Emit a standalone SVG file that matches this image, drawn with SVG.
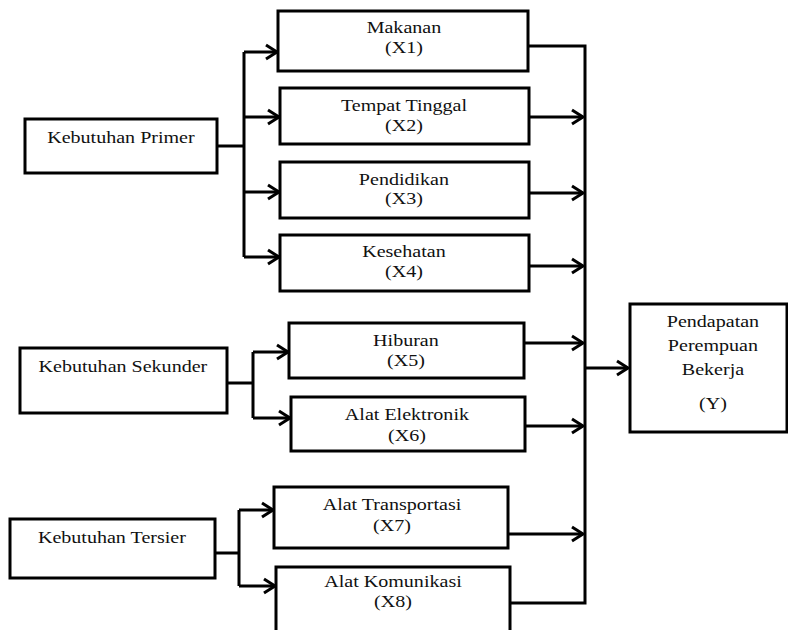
<svg xmlns="http://www.w3.org/2000/svg" width="788" height="630" viewBox="0 0 788 630">
<style>
.box{fill:#fff;stroke:#000;stroke-width:3}
text{font-family:'Liberation Serif',serif;font-size:17px;fill:#111;text-anchor:middle;transform-box:fill-box;transform-origin:center;transform:scaleX(1.18)}
.c{fill:none;stroke:#000;stroke-width:3}
</style>
<defs>
<marker id="ah" markerUnits="userSpaceOnUse" markerWidth="16" markerHeight="18" viewBox="-13 -9 16 18" refX="0" refY="0" orient="auto">
<path d="M-11,-7 L0,0 L-11,7" fill="none" stroke="#000" stroke-width="3"/>
</marker>
</defs>
<rect width="788" height="630" fill="#fff"/>
<g id="connectors">
<path class="c" d="M217,146 H244 M244,52 V257"/>
<path class="c" marker-end="url(#ah)" d="M244,52 H277"/>
<path class="c" marker-end="url(#ah)" d="M244,117 H279"/>
<path class="c" marker-end="url(#ah)" d="M244,192 H279"/>
<path class="c" marker-end="url(#ah)" d="M244,257 H279"/>
<path class="c" d="M227,383 H253 M253,352 V418"/>
<path class="c" marker-end="url(#ah)" d="M253,352 H288"/>
<path class="c" marker-end="url(#ah)" d="M253,418 H290"/>
<path class="c" d="M215,553 H239 M239,510 V586"/>
<path class="c" marker-end="url(#ah)" d="M239,510 H273"/>
<path class="c" marker-end="url(#ah)" d="M239,586 H275"/>
<path class="c" d="M528,46 H585 V603 H510"/>
<path class="c" marker-end="url(#ah)" d="M529,117 H583"/>
<path class="c" marker-end="url(#ah)" d="M529,193 H583"/>
<path class="c" marker-end="url(#ah)" d="M529,266 H583"/>
<path class="c" marker-end="url(#ah)" d="M524,343 H583"/>
<path class="c" marker-end="url(#ah)" d="M525,426 H583"/>
<path class="c" marker-end="url(#ah)" d="M508,534 H583"/>
<path class="c" marker-end="url(#ah)" d="M585,368 H628"/>
</g>
<g id="primer"><rect class="box" x="25" y="119" width="192" height="54"/><text x="121" y="143">Kebutuhan Primer</text></g>
<g id="sekunder"><rect class="box" x="20" y="348" width="207" height="65"/><text x="123" y="372">Kebutuhan Sekunder</text></g>
<g id="tersier"><rect class="box" x="10" y="519" width="205" height="59"/><text x="112" y="543">Kebutuhan Tersier</text></g>
<g id="x1"><rect class="box" x="278" y="11" width="250" height="60"/><text x="404" y="33">Makanan</text><text x="404" y="53">(X1)</text></g>
<g id="x2"><rect class="box" x="280" y="88" width="249" height="56"/><text x="404" y="111">Tempat Tinggal</text><text x="404" y="131">(X2)</text></g>
<g id="x3"><rect class="box" x="280" y="162" width="249" height="56"/><text x="404" y="185">Pendidikan</text><text x="404" y="204">(X3)</text></g>
<g id="x4"><rect class="box" x="280" y="235" width="249" height="56"/><text x="404" y="257">Kesehatan</text><text x="404" y="277">(X4)</text></g>
<g id="x5"><rect class="box" x="289" y="323" width="235" height="55"/><text x="406" y="346">Hiburan</text><text x="406" y="366">(X5)</text></g>
<g id="x6"><rect class="box" x="291" y="397" width="234" height="54"/><text x="407" y="420">Alat Elektronik</text><text x="407" y="441">(X6)</text></g>
<g id="x7"><rect class="box" x="274" y="487" width="234" height="61"/><text x="392" y="510">Alat Transportasi</text><text x="392" y="531">(X7)</text></g>
<g id="x8"><rect class="box" x="276" y="567" width="234" height="80"/><text x="393" y="587">Alat Komunikasi</text><text x="393" y="607">(X8)</text></g>
<g id="y"><rect class="box" x="630" y="304" width="157" height="128"/><text x="713" y="327">Pendapatan</text><text x="713" y="351">Perempuan</text><text x="713" y="375">Bekerja</text><text x="713" y="409">(Y)</text></g>
</svg>
